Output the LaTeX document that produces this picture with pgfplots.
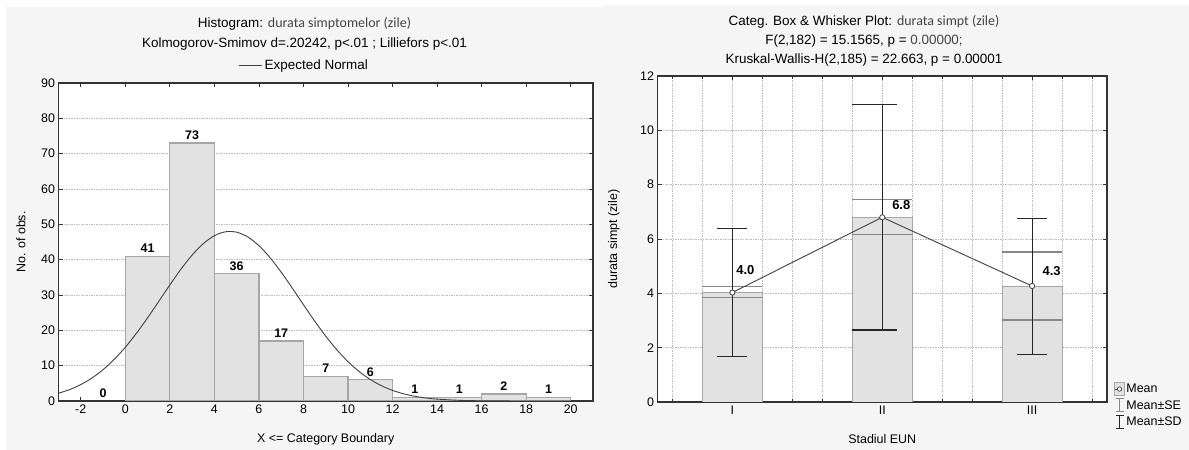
\documentclass[border=0pt]{standalone}
\usepackage{fontspec}
\setmainfont{Liberation Sans}
\newfontfamily\calib{Carlito}
\usepackage{pgfplots}
\pgfplotsset{compat=1.18}
\newcommand\fs[1]{\fontsize{#1}{#1}\selectfont}
\definecolor{bg}{HTML}{F5F5F5}
\definecolor{barfill}{HTML}{E2E2E2}
\definecolor{bardraw}{HTML}{A6A6A6}
\definecolor{gridc}{HTML}{BBBBBB}
\definecolor{curvec}{HTML}{404040}
\definecolor{segray}{HTML}{888888}
\definecolor{titlegray}{HTML}{444444}
\pgfplotsset{
  statbase/.style={
    scale only axis,
    axis background/.style={fill=white},
    axis line style={line width=1.1pt, black!80},
    tick align=inside,
    major tick length=4bp, minor tick length=3bp,
    tick style={black!80, line width=0.8pt},
    tick label style={font=\fs{12.5}},
    /pgf/number format/assume math mode=true,
    label style={font=\fs{12.5}},
    grid style={gridc, dash pattern=on 1.5bp off 1bp, line width=0.6pt},
  },
}
\begin{document}
\begin{tikzpicture}
\fill[white] (0bp,0bp) rectangle (1189bp,450bp);
\fill[bg] (6bp,0bp) rectangle (603bp,443bp);
\fill[bg] (603bp,0bp) rectangle (1189bp,445bp);
\useasboundingbox (0bp,0bp) rectangle (1189bp,450bp);

% titles left
\node[font=\fs{13.5}] at (304.5bp,426bp) {Histogram: {\calib\fs{14}\color{titlegray}durata simptomelor (zile)}};
\node[font=\fs{13.5}] at (304.5bp,406bp) {Kolmogorov-Smimov d=.20242, p<.01 ; Lilliefors p<.01};
% titles right
\node[font=\fs{13.5}] at (864bp,428bp) {Categ. Box \& Whisker Plot: {\calib\fs{14}\color{titlegray}durata simpt (zile)}};
\node[font=\fs{13.5}] at (864bp,409bp) {F(2,182) = 15.1565, p = {\color{titlegray}0.00000;}};
\node[font=\fs{13.5}] at (864bp,390bp) {Kruskal-Wallis-H(2,185) = 22.663, p = 0.00001};

% ---------------- left: histogram
\begin{axis}[statbase,
  at={(58.5bp,49bp)}, anchor=south west,
  width=534.5bp, height=318bp,
  xmin=-3, xmax=21, ymin=0, ymax=90,
  xtick={-2,0,...,20}, ytick={0,10,...,90},
  ymajorgrids,
  xlabel={X <= Category Boundary},
  ylabel={No. of obs.},
  xlabel style={at={(axis description cs:0.5,-0.1195)}, anchor=center},
  ylabel style={at={(axis description cs:-0.0702,0.5)}, anchor=center},
  legend style={at={(axis description cs:0.460,1.0566)}, anchor=center, draw=none, fill=none, font=\fs{13.5}, inner sep=0pt},
  legend image code/.code={\draw[#1] (0bp,0bp) -- (23bp,0bp);},
]
\addplot[ybar interval, fill=barfill, draw=bardraw, line width=1.2pt, forget plot]
  coordinates {(0,41) (2,73) (4,36) (6,17) (8,7) (10,6) (12,1) (14,1) (16,2) (18,1) (20,1)};
\addplot[curvec, line width=0.9pt, smooth] coordinates {
(-3,2.19) (-2.5,3.23) (-2,4.64) (-1.5,6.50) (-1,8.86) (-0.5,11.76) (0,15.21) (0.5,19.17)
(1,23.54) (1.5,28.18) (2,32.85) (2.5,37.32) (3,41.30) (3.5,44.53) (4,46.79) (4.5,47.90)
(5,47.78) (5.5,46.43) (6,43.96) (6.5,40.56) (7,36.45) (7.5,31.92) (8,27.24) (8.5,22.65)
(9,18.34) (9.5,14.48) (10,11.13) (10.5,8.34) (11,6.09) (11.5,4.33) (12,3.00) (12.5,2.03)
(13,1.33) (13.5,0.85) (14,0.53) (15,0.19) (16,0.06) (17,0.02) (18,0.005) (19,0.001) (20,0) (21,0)};
\addlegendentry{Expected Normal}
\addplot[draw=none, mark=none, forget plot, nodes near coords, point meta=explicit symbolic,
  nodes near coords style={font=\bfseries\fs{12.5}, anchor=south, text=black}]
  coordinates {(-1,0)[0] (1,41)[41] (3,73)[73] (5,36)[36] (7,17)[17] (9,7)[7] (11,6)[6]
  (13,1)[1] (15,1)[1] (17,2)[2] (19,1)[1]};
\end{axis}

% ---------------- right: box & whisker
\begin{axis}[statbase,
  at={(657.5bp,48bp)}, anchor=south west,
  width=449.5bp, height=326bp,
  xmin=0.5, xmax=3.5, ymin=0, ymax=12,
  xtick={1,2,3}, xticklabels={I,II,III},
  minor xtick={0.6,0.8,1.2,1.4,1.6,1.8,2.2,2.4,2.6,2.8,3.2,3.4},
  ytick={0,2,...,12},
  xmajorgrids, xminorgrids, ymajorgrids,
  minor grid style={gridc, dash pattern=on 1.5bp off 1bp, line width=0.6pt},
  xlabel={Stadiul EUN},
  ylabel={durata simpt (zile)},
  xlabel style={at={(axis description cs:0.5,-0.1135)}, anchor=center},
  ylabel style={at={(axis description cs:-0.0968,0.5)}, anchor=center},
  legend style={at={(axis description cs:1,0.0613)}, anchor=north west, xshift=7bp,
    draw=none, fill=none, font=\fs{12.5}, inner sep=0pt, row sep=2.5bp,
    nodes={inner sep=1.5bp}, cells={anchor=west}},
  legend cell align=left,
]
\addplot[ybar, bar width=60bp, fill=barfill, draw=bardraw, line width=0.9pt, forget plot]
  coordinates {(1,4.03) (2,6.8) (3,4.27)};
% Mean +- SE
\addplot[segray, line width=1.3pt, forget plot] coordinates {(0.8,4.24) (1.2,4.24)};
\addplot[segray, line width=1.3pt, forget plot] coordinates {(0.8,3.84) (1.2,3.84)};
\addplot[segray, line width=1.3pt, forget plot] coordinates {(1.8,7.46) (2.2,7.46)};
\addplot[segray, line width=1.3pt, forget plot] coordinates {(1.8,6.16) (2.2,6.16)};
\addplot[segray, line width=1.3pt, forget plot] coordinates {(2.8,5.52) (3.2,5.52)};
\addplot[segray, line width=1.3pt, forget plot] coordinates {(2.8,3.02) (3.2,3.02)};
% Mean +- SD
\addplot[black!85, line width=1.1pt, forget plot] coordinates {(1,1.67) (1,6.40)};
\addplot[black!85, line width=1.1pt, forget plot] coordinates {(0.9,6.40) (1.1,6.40)};
\addplot[black!85, line width=1.1pt, forget plot] coordinates {(0.9,1.67) (1.1,1.67)};
\addplot[black!85, line width=1.1pt, forget plot] coordinates {(2,2.65) (2,10.96)};
\addplot[black!85, line width=1.1pt, forget plot] coordinates {(1.8,10.96) (2.1,10.96)};
\addplot[black!85, line width=1.1pt, forget plot] coordinates {(1.8,2.65) (2.1,2.65)};
\addplot[black!85, line width=1.1pt, forget plot] coordinates {(3,1.75) (3,6.74)};
\addplot[black!85, line width=1.1pt, forget plot] coordinates {(2.9,6.74) (3.1,6.74)};
\addplot[black!85, line width=1.1pt, forget plot] coordinates {(2.9,1.75) (3.1,1.75)};
% means
\addplot[curvec, line width=0.9pt, mark=*, mark size=2.6bp,
  mark options={fill=white, draw=curvec, line width=0.8pt}, forget plot,
  nodes near coords, point meta=explicit symbolic,
  visualization depends on={\thisrow{dx}\as\dx},
  visualization depends on={\thisrow{dy}\as\dy},
  nodes near coords style={font=\bfseries\fs{13}, anchor=center, text=black,
    xshift=\dx bp, yshift=\dy bp}]
  table[x=x, y=y, meta=lab] {
x y lab dx dy
1 4.03 4.0 13 22
2 6.8 6.8 19 12
3 4.27 4.3 19.5 14.5
};
% legend
\addlegendimage{legend image code/.code={
  \draw[fill=barfill, draw=bardraw, line width=0.7pt] (0bp,-6.5bp) rectangle (10bp,6.5bp);
  \draw[curvec, line width=0.7pt] (0bp,0bp) -- (5bp,0bp);
  \draw[curvec, fill=white, line width=0.7pt] (5bp,0bp) circle (2.2bp);}}
\addlegendentry{Mean}
\addlegendimage{legend image code/.code={
  \draw[segray, line width=1pt] (1bp,-6.5bp) -- (9bp,-6.5bp) (5bp,-6.5bp) -- (5bp,6.5bp) (1bp,6.5bp) -- (9bp,6.5bp);}}
\addlegendentry{Mean±SE}
\addlegendimage{legend image code/.code={
  \draw[black!85, line width=1pt] (1bp,-6.5bp) -- (9bp,-6.5bp) (5bp,-6.5bp) -- (5bp,6.5bp) (1bp,6.5bp) -- (9bp,6.5bp);}}
\addlegendentry{Mean±SD}
\end{axis}
\end{tikzpicture}
\end{document}
